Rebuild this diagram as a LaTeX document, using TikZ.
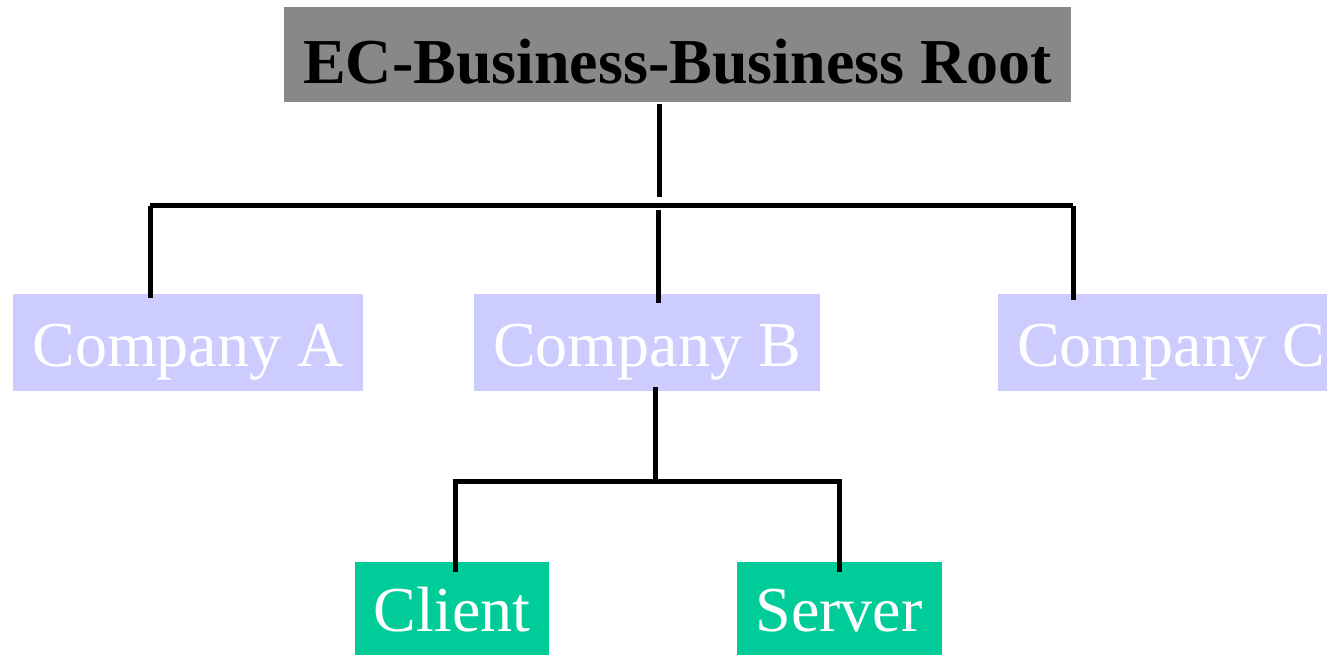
\documentclass[tikz,border=0pt]{standalone}
\usepackage{fontspec}
\setmainfont{Liberation Serif}
\definecolor{rootgray}{HTML}{888888}
\definecolor{compblue}{HTML}{CCCCFF}
\definecolor{leafgreen}{HTML}{00CC99}
\tikzset{
  boxbase/.style={inner sep=0pt, text depth=0pt, font=\fontsize{64pt}{70pt}\selectfont},
  rootbox/.style={boxbase, fill=rootgray, text=black, font=\fontsize{64pt}{70pt}\selectfont\bfseries,
    minimum width=787pt, minimum height=95pt, text height=57pt},
  compbox/.style={boxbase, fill=compblue, text=white, minimum width=346pt, minimum height=97pt, text height=47pt},
  leafbox/.style={boxbase, fill=leafgreen, text=white, minimum height=97pt, text height=41pt},
  link/.style={line width=5pt, black}
}
\begin{document}
\begin{tikzpicture}[x=1pt, y=-1pt]
  \clip (0,0) rectangle (1327,654);
  \fill[white] (0,0) rectangle (1327,654);

  % boxes
  \node[rootbox] (root) at (677.5,54.5) {EC-Business-Business Root};
  \node[compbox, minimum width=350pt] (compA) at (188,342.5) {Company A};
  \node[compbox] (compB) at (647,342.5) {Company B};
  \node[compbox] (compC) at (1171,342.5) {Company C};
  \node[leafbox, minimum width=194pt] (client) at (452,610.5) {Client};
  \node[leafbox, minimum width=205pt] (server) at (839,610.5) {Server};

  % junction points of the upper level
  \coordinate (rootdrop) at (659,197);
  \coordinate (hl) at (150,205.5);
  \coordinate (hm) at (658,210);
  \coordinate (hr) at (1073,205.5);

  % junction points of the lower level
  \coordinate (bdrop) at (655,481.5);
  \coordinate (ll) at (455.5,481.5);
  \coordinate (lr) at (839,481.5);

  % upper connectors
  \draw[link] ([yshift=-2pt]root.south -| rootdrop) -- (rootdrop);
  \draw[link] (hl) -- (hr);
  \draw[link] (hl) -- ([yshift=-4pt]hl |- compA.north);
  \draw[link] (hm) -- ([yshift=-9pt]hm |- compB.north);
  \draw[link] (hr) -- ([yshift=-6pt]hr |- compC.north);

  % lower connectors
  \draw[link] ([yshift=4pt]compB.south -| bdrop) -- ([yshift=-2pt]bdrop);
  \draw[link] ([yshift=-10pt]ll |- client.north) -- (ll) -- (lr) -- ([yshift=-10pt]lr |- server.north);
\end{tikzpicture}
\end{document}
